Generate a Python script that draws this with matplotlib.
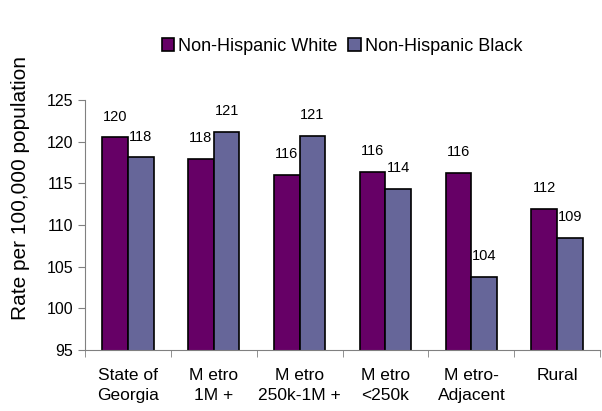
import numpy as np
import matplotlib.pyplot as plt

plt.rcParams['font.family'] = ['Liberation Sans', 'DejaVu Sans']

categories = ['State of\nGeorgia', 'M etro\n1M +', 'M etro\n250k-1M +', 'M etro\n<250k', 'M etro-\nAdjacent', 'Rural']
white = [120.5, 117.9, 116.0, 116.4, 116.2, 111.9]
black = [118.1, 121.2, 120.7, 114.3, 103.8, 108.5]
white_lbl = ['120', '118', '116', '116', '116', '112']
black_lbl = ['118', '121', '121', '114', '104', '109']


def main():
    fig = plt.figure(figsize=(6.02, 4.11), dpi=100)
    ax = fig.add_axes([0.141, 0.148, 0.856, 0.609])
    x = np.arange(len(categories))
    w = 0.30
    ax.bar(x - w / 2, white, w, bottom=0, color='#660066', edgecolor='black', linewidth=1.2,
           label='Non-Hispanic White')
    ax.bar(x + w / 2, black, w, color='#666699', edgecolor='black', linewidth=1.2,
           label='Non-Hispanic Black')
    for i in range(len(categories)):
        ax.text(x[i] - w / 2, white[i] + 2.5, white_lbl[i], ha='center', va='center', fontsize=10.5)
        ax.text(x[i] + w / 2, black[i] + 2.5, black_lbl[i], ha='center', va='center', fontsize=10.5)

    ax.set_ylim(95, 125)
    ax.set_xlim(-0.5, len(categories) - 0.5)
    ax.set_yticks(range(95, 126, 5))
    ax.set_xticks(x)
    ax.set_xticklabels(categories, fontsize=12.5, linespacing=1.4)
    ax.set_xticks(np.arange(-0.5, len(categories), 1.0), minor=True)
    ax.tick_params(axis='x', which='major', length=0, pad=13)
    ax.tick_params(axis='x', which='minor', length=5, color='#808080')
    ax.tick_params(axis='y', length=5, color='#808080', labelsize=11.5)
    for s in ['top', 'right']:
        ax.spines[s].set_visible(False)
    for s in ['left', 'bottom']:
        ax.spines[s].set_color('#808080')
    ax.set_ylabel('Rate per 100,000 population', fontsize=15)
    ax.yaxis.set_label_coords(-0.107, 0.648)

    fig.legend(loc='center', bbox_to_anchor=(0.568, 0.888), ncol=2, frameon=False, fontsize=13,
               handlelength=0.7, handleheight=0.7, handletextpad=0.2, columnspacing=0.6)
    fig.savefig('out.png', dpi=100)


if __name__ == '__main__':
    main()
